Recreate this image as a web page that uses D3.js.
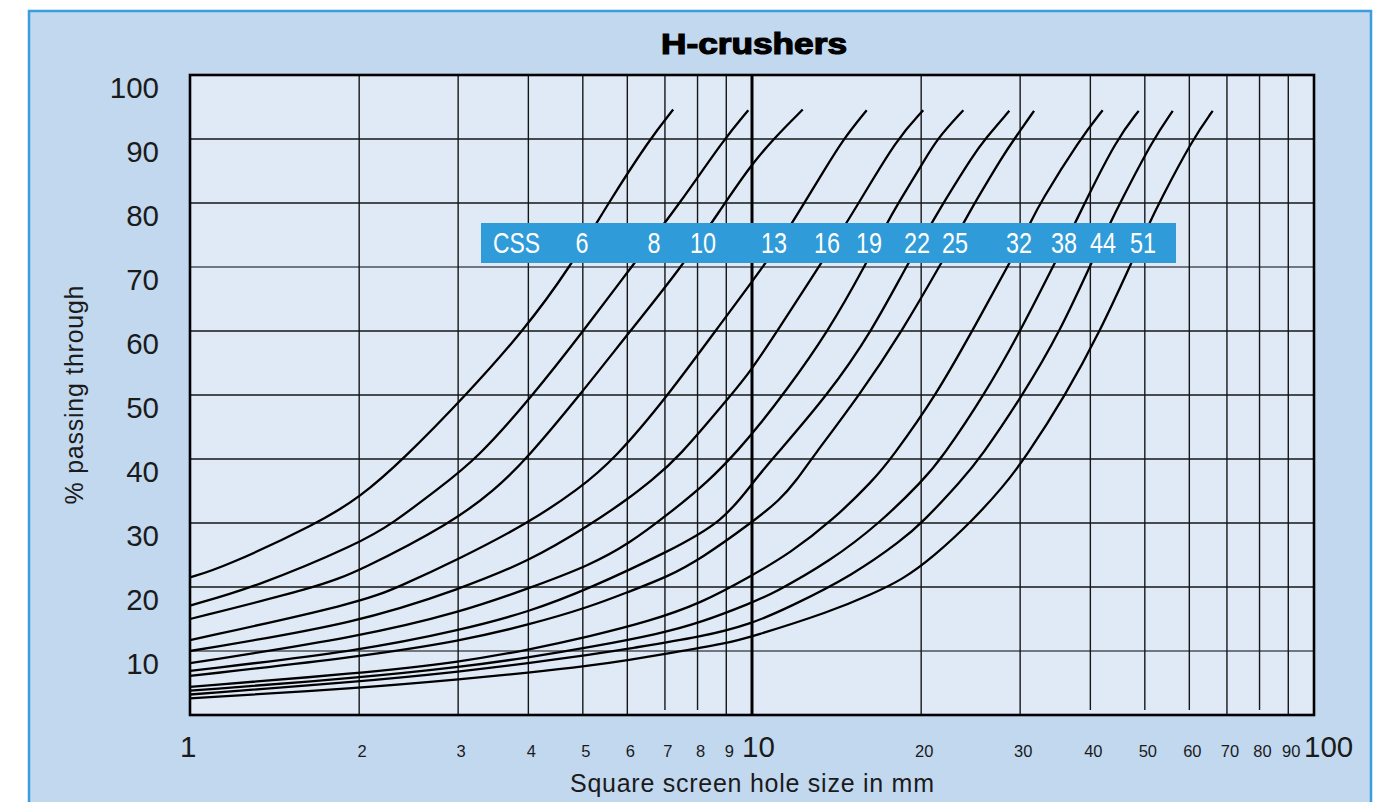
<!DOCTYPE html>
<html><head><meta charset="utf-8">
<script src="https://cdn.jsdelivr.net/npm/d3@7"></script>
<style>html,body{margin:0;padding:0;background:#fff;} svg{display:block;}</style>
</head><body><svg id="c" width="1390" height="802"></svg>
<script>
// ---------- data ----------
const chartTitle = "H-crushers";
const cssLabels = ["6","8","10","13","16","19","22","25","32","38","44","51"];
const yTickValues = [10,20,30,40,50,60,70,80,90,100];
const yGridValues = [10,20,30,40,50,60,70,80,90];
const xMajorTicks = [1,10,100];
const xMinorTicks = [2,3,4,5,6,7,8,9,20,30,40,50,60,70,80,90];
const xShortTicks = [7,8,40,50,60,80];
const xTitle = "Square screen hole size in mm";
const yTitle = "% passing through";

// curves: [screen size mm, % passing]
const css6  = [[1,21.5],[1.15,23.1],[1.69,30],[2.0,33.9],[2.40,40],[3.1,50],[3.92,60],[4.75,70],[5.55,80],[6.58,90],[7.24,94.6]];
const css8  = [[1,17.1],[1.31,20],[2.0,26.8],[2.30,30],[2.75,35.2],[3.24,40],[4.08,50],[5.01,60],[6.1,70],[7.45,80],[8.92,90],[9.85,94.5]];
const css10 = [[1,15.0],[1.69,20],[2.0,22.5],[2.92,30],[3.49,35.2],[3.97,40],[4.94,50],[6.07,60],[7.5,70],[8.95,80],[9.92,85.7],[10.91,90],[12.31,94.6]];
const css13 = [[1,11.7],[2.0,17.5],[2.35,20],[3.0,24.3],[4.0,30],[4.9,35.2],[5.7,40],[7.1,50],[8.6,60],[10.62,70.7],[11.77,76.8],[12.39,80],[13.40,84.9],[14.54,90],[16.0,94.5]];
const css16 = [[1,10.0],[2.0,14.4],[3.04,19.8],[4.01,24.0],[5.15,29.7],[6.05,33.9],[6.63,36.7],[7.36,40],[9.18,50],[9.92,53.6],[11.07,59.9],[13.31,70.7],[15.5,80],[18.09,90],[20.17,94.5]];
const css19 = [[1,8.1],[2.0,12.2],[3.04,16.1],[4.01,19.8],[5.15,23.4],[6.05,26.8],[7.08,31.3],[8.42,36.7],[9.52,41.7],[10.3,45.3],[11.37,50.1],[13.67,59.9],[16.0,70.7],[17.37,76.8],[18.21,80],[20.04,85.9],[21.31,90],[23.77,94.5]];
const css22 = [[1,6.9],[2.0,10.0],[3.04,13.3],[4.01,16.1],[5.15,19.8],[7.08,25.5],[8.9,30.2],[10.1,36.7],[10.9,40.1],[13.67,50.1],[16.33,59.9],[18.97,70.7],[20.88,76.8],[21.90,80],[24.76,87.5],[25.98,90],[28.70,94.4]];
const css25 = [[1,6.1],[2.0,9.1],[3.04,11.6],[4.01,14.1],[5.15,16.9],[6.05,19.3],[7.08,21.6],[8.14,24.5],[9.96,30.0],[11.22,33.6],[12.01,36.7],[12.77,40.1],[15.57,50.1],[18.47,59.9],[21.76,70.7],[23.77,76.8],[24.90,80],[28.0,87.5],[29.3,90],[31.76,94.4]];
const css32 = [[1,4.4],[2.0,6.5],[3.04,8.3],[4.01,10.2],[5.15,12.3],[6.54,14.6],[8.14,17.5],[9.96,21.7],[11.69,25.3],[13.95,30.5],[16.44,36.7],[17.7,40.1],[21.31,50.1],[24.60,59.9],[28.78,70.7],[31.24,76.8],[32.54,80],[38.34,90],[42.07,94.5]];
const css38 = [[1,3.8],[2.0,5.8],[3.04,7.5],[4.01,9.0],[5.15,10.6],[6.86,12.7],[8.14,14.5],[9.96,17.5],[10.91,19.0],[13.76,24.0],[16.89,30.0],[20.17,36.7],[21.74,40.1],[25.94,50.1],[30.0,59.9],[34.6,70.7],[37.56,76.8],[39.08,80],[44.57,90],[48.76,94.4]];
const css44 = [[1,3.2],[2.0,5.2],[3.04,6.8],[4.01,8.1],[5.15,9.4],[6.05,10.4],[8.14,12.2],[9.96,14.2],[11.69,16.9],[15.15,21.9],[18.47,27.3],[20.17,30.2],[23.61,36.7],[25.45,40.1],[30.39,50.1],[35.32,59.9],[40.2,70.7],[43.35,76.8],[45.17,80],[51.76,90],[56.06,94.4]];
const css51 = [[1,2.6],[2.0,4.2],[3.04,5.6],[4.01,6.6],[5.15,7.7],[6.05,8.6],[7.08,9.6],[9.02,11.2],[9.96,12.2],[13.76,16.1],[16.44,19.0],[18.47,21.1],[21.02,24.7],[24.76,30.5],[28.0,35.7],[30.6,40.1],[36.2,50.1],[41.6,59.9],[47.37,70.7],[50.92,76.8],[52.99,80],[60.84,90],[66.03,94.4]];
const curves = [css6,css8,css10,css13,css16,css19,css22,css25,css32,css38,css44,css51];

// ---------- layout ----------
const svg = d3.select("#c");
const L = 190, R = 1314, T = 75, B = 715;
const x = d3.scaleLog().domain([1,100]).range([L,R]);
const y = d3.scaleLinear().domain([0,100]).range([B,T]);
const FONT = "'Liberation Sans', Arial, Helvetica, sans-serif";
const ink = "#1b1b1b";
const labelBox = {x0:481, x1:1176, y0:223, y1:263};
const labelCenters = [582,654,703,774,827,869,917,955,1019,1064,1103,1143];

// frame
svg.append("rect").attr("x",29).attr("y",11).attr("width",1342).attr("height",820)
  .attr("fill","#c2d8ef").attr("stroke","#3a9de0").attr("stroke-width",2.5);

// plot background
svg.append("rect").attr("x",L).attr("y",T).attr("width",R-L).attr("height",B-T).attr("fill","#e0eaf7");

// title
svg.append("text").attr("x",754).attr("y",54).attr("text-anchor","middle")
  .attr("font-family",FONT).attr("font-weight",900).attr("font-size",29)
  .attr("fill","#000").attr("stroke","#000").attr("stroke-width",1.2)
  .attr("textLength",186).attr("lengthAdjust","spacingAndGlyphs").text(chartTitle);

const grid = svg.append("g");
grid.selectAll("line.h").data(yGridValues).join("line").attr("class","h")
  .attr("x1",L).attr("x2",R).attr("y1",d=>y(d)).attr("y2",d=>y(d))
  .attr("stroke",d=>(d===70||d===10)?"#4b5058":"#161616").attr("stroke-width",1.4);
grid.selectAll("line.v").data(xMinorTicks).join("line").attr("class","v")
  .attr("x1",d=>x(d)).attr("x2",d=>x(d)).attr("y1",T)
  .attr("y2",d=>xShortTicks.includes(d)?B-5:B)
  .attr("stroke","#161616").attr("stroke-width",1.4);
grid.append("line").attr("x1",x(10)).attr("x2",x(10)).attr("y1",T).attr("y2",B)
  .attr("stroke","#000").attr("stroke-width",3);

// curves
const line = d3.line().x(d=>x(d[0])).y(d=>y(d[1])).curve(d3.curveBasis);
svg.append("g").selectAll("path").data(curves).join("path")
  .attr("d",line).attr("fill","none").attr("stroke","#000").attr("stroke-width",2.3)
  .attr("stroke-linejoin","round").attr("stroke-linecap","butt");

// plot border
svg.append("rect").attr("x",L).attr("y",T).attr("width",R-L).attr("height",B-T)
  .attr("fill","none").attr("stroke","#000").attr("stroke-width",2.6);

// label box
svg.append("rect").attr("x",labelBox.x0).attr("y",labelBox.y0)
  .attr("width",labelBox.x1-labelBox.x0).attr("height",labelBox.y1-labelBox.y0).attr("fill","#2f9bd9");
const lblG = svg.append("g").attr("font-family",FONT).attr("font-size",30).attr("fill","#fff");
lblG.append("text").attr("x",493).attr("y",252.5).attr("textLength",47).attr("lengthAdjust","spacingAndGlyphs").text("CSS");
lblG.selectAll("text.css").data(cssLabels).join("text").attr("class","css")
  .attr("x",(d,i)=>labelCenters[i]).attr("y",252.5).attr("text-anchor","middle")
  .attr("textLength",d=>d.length*13).attr("lengthAdjust","spacingAndGlyphs").text(d=>d);

// y tick labels
svg.append("g").selectAll("text").data(yTickValues).join("text")
  .attr("x",159).attr("y",d=>y(d)+22.5).attr("text-anchor","end")
  .attr("font-family",FONT).attr("font-size",29.5).attr("fill",ink).text(d=>d);

// x tick labels
svg.append("g").selectAll("text").data(xMajorTicks).join("text")
  .attr("x",d=>x(d)-10).attr("y",757).attr("text-anchor","start")
  .attr("font-family",FONT).attr("font-size",29.5).attr("fill",ink).text(d=>d);
svg.append("g").selectAll("text").data(xMinorTicks).join("text")
  .attr("x",d=>x(d)+3).attr("y",757).attr("text-anchor","middle")
  .attr("font-family",FONT).attr("font-size",16.5).attr("fill",ink).text(d=>d);

// axis titles
svg.append("text").attr("x",752).attr("y",792).attr("text-anchor","middle")
  .attr("font-family",FONT).attr("font-size",25).attr("fill",ink)
  .attr("textLength",364).text(xTitle);
svg.append("text").attr("transform","translate(83,395) rotate(-90)").attr("text-anchor","middle")
  .attr("font-family",FONT).attr("font-size",25).attr("fill",ink)
  .attr("textLength",219).text(yTitle);
</script></body></html>
